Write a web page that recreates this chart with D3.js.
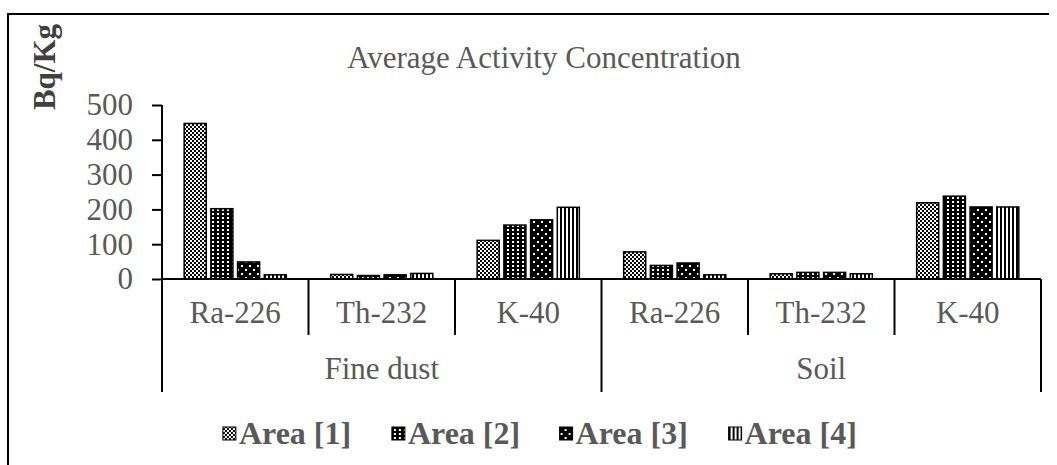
<!DOCTYPE html>
<html>
<head>
<meta charset="utf-8">
<script src="https://cdn.jsdelivr.net/npm/d3@7"></script>
<style>
  body { margin: 0; background: #fff; }
  text { font-family: "Liberation Serif", "Times New Roman", serif; }
</style>
</head>
<body>
<script>
// data
var groups = ["Fine dust", "Soil"];
var nuclides = ["Ra-226", "Th-232", "K-40"];
var series = ["Area [1]", "Area [2]", "Area [3]", "Area [4]"];
var area1 = [447, 13, 111, 78, 15, 219];
var area2 = [202, 10, 155, 39, 19, 238];
var area3 = [49, 12, 170, 46, 19, 207];
var area4 = [12, 16, 206, 12, 15, 207];
var yTicks = [0, 100, 200, 300, 400, 500];

var w = 1057, h = 465;
var svg = d3.select("body").append("svg")
  .attr("width", w)
  .attr("height", h);

// patterns
var defs = svg.append("defs");
var p1 = defs.append("pattern").attr("id", "p1").attr("patternUnits", "userSpaceOnUse")
  .attr("width", 4).attr("height", 4);
p1.append("rect").attr("width", 4).attr("height", 4).attr("fill", "#fff");
p1.append("rect").attr("width", 2).attr("height", 2).attr("fill", "#000");
p1.append("rect").attr("x", 2).attr("y", 2).attr("width", 2).attr("height", 2).attr("fill", "#000");

var p2 = defs.append("pattern").attr("id", "p2").attr("patternUnits", "userSpaceOnUse")
  .attr("width", 5).attr("height", 4);
p2.append("rect").attr("width", 5).attr("height", 4).attr("fill", "#000");
p2.append("rect").attr("x", 2).attr("y", 1).attr("width", 2).attr("height", 2).attr("fill", "#fff");

var p3 = defs.append("pattern").attr("id", "p3").attr("patternUnits", "userSpaceOnUse")
  .attr("width", 8).attr("height", 8);
p3.append("rect").attr("width", 8).attr("height", 8).attr("fill", "#000");
p3.append("rect").attr("x", 1).attr("y", 1).attr("width", 2).attr("height", 2).attr("fill", "#fff");
p3.append("rect").attr("x", 5).attr("y", 5).attr("width", 2).attr("height", 2).attr("fill", "#fff");

var p4 = defs.append("pattern").attr("id", "p4").attr("patternUnits", "userSpaceOnUse")
  .attr("width", 4).attr("height", 4);
p4.append("rect").attr("width", 4).attr("height", 4).attr("fill", "#fff");
p4.append("rect").attr("width", 2).attr("height", 4).attr("fill", "#000");

var fills = ["url(#p1)", "url(#p2)", "url(#p3)", "url(#p4)"];

// border
svg.append("path")
  .attr("d", "M8,465 V14 H1049")
  .attr("fill", "none").attr("stroke", "#000").attr("stroke-width", 2);

// scales
var cats = [];
groups.forEach(function(g) {
  nuclides.forEach(function(n) { cats.push(g + "|" + n); });
});
var x0 = d3.scaleBand().domain(cats).range([162, 1041]);
var x1 = d3.scaleBand().domain(series).range([0, x0.bandwidth()])
  .paddingInner(0.175).paddingOuter(0.83);
var y = d3.scaleLinear().domain([0, 500]).range([279, 105]);
var xg = d3.scaleBand().domain(groups).range([162, 1041]);

// bars
var vals = [area1, area2, area3, area4];
var rows = [];
series.forEach(function(s, si) {
  cats.forEach(function(c, ci) {
    rows.push({ s: s, si: si, c: c, v: vals[si][ci] });
  });
});
svg.append("g").selectAll("rect")
  .data(rows)
  .enter()
  .append("rect")
  .attr("x", function(d) { return x0(d.c) + x1(d.s); })
  .attr("y", function(d) { return y(d.v); })
  .attr("width", x1.bandwidth())
  .attr("height", function(d) { return y(0) - y(d.v); })
  .attr("fill", function(d) { return fills[d.si]; })
  .attr("stroke", "#000")
  .attr("stroke-width", 1.5);

// y axis
var yAxis = svg.append("g")
  .attr("transform", "translate(162,0)")
  .call(d3.axisLeft(y).tickValues(yTicks).tickSize(10).tickPadding(19));
yAxis.select(".domain").attr("stroke", "#000").attr("stroke-width", 2).attr("d", "M0,105 V279");
yAxis.selectAll(".tick line").attr("stroke", "#000").attr("stroke-width", 2);
yAxis.selectAll(".tick text")
  .attr("fill", "#595959")
  .attr("font-size", "31px")
  .attr("font-family", "Liberation Serif, Times New Roman, serif");

// x axis line
svg.append("line")
  .attr("x1", 162).attr("x2", 1041)
  .attr("y1", y(0)).attr("y2", y(0))
  .attr("stroke", "#000").attr("stroke-width", 2);

// category dividers
var inner = cats.filter(function(c, i) { return i % 3 !== 0; });
svg.append("g").selectAll("line")
  .data(inner)
  .enter()
  .append("line")
  .attr("x1", function(c) { return x0(c); })
  .attr("x2", function(c) { return x0(c); })
  .attr("y1", y(0)).attr("y2", 335)
  .attr("stroke", "#000").attr("stroke-width", 2);

var outer = [162, xg("Soil"), 1041];
svg.append("g").selectAll("line")
  .data(outer)
  .enter()
  .append("line")
  .attr("x1", function(d) { return d; })
  .attr("x2", function(d) { return d; })
  .attr("y1", y(0)).attr("y2", 392)
  .attr("stroke", "#000").attr("stroke-width", 2);

// category labels
svg.append("g").selectAll("text")
  .data(cats)
  .enter()
  .append("text")
  .attr("x", function(c) { return x0(c) + x0.bandwidth() / 2; })
  .attr("y", 323)
  .attr("text-anchor", "middle")
  .attr("font-size", "31px")
  .attr("fill", "#595959")
  .text(function(c) { return c.split("|")[1]; });

svg.append("g").selectAll("text")
  .data(groups)
  .enter()
  .append("text")
  .attr("x", function(g) { return xg(g) + xg.bandwidth() / 2; })
  .attr("y", 379)
  .attr("text-anchor", "middle")
  .attr("font-size", "31px")
  .attr("fill", "#595959")
  .text(function(g) { return g; });

// title
svg.append("text")
  .attr("x", 544).attr("y", 68)
  .attr("text-anchor", "middle")
  .attr("font-size", "31px")
  .attr("fill", "#595959")
  .text("Average Activity Concentration");

// y label
svg.append("text")
  .attr("transform", "translate(55,67) rotate(-90)")
  .attr("text-anchor", "middle")
  .attr("font-size", "31px")
  .attr("font-weight", "bold")
  .attr("fill", "#404040")
  .text("Bq/Kg");

// legend
var legX = [223, 353, 482, 612];
var leg = svg.append("g").selectAll("g")
  .data(series)
  .enter()
  .append("g")
  .attr("transform", function(d, i) { return "translate(" + (legX[i] * 1.3 - 67) + ",0)"; });
leg.append("rect")
  .attr("y", 427)
  .attr("width", 13).attr("height", 13)
  .attr("fill", function(d, i) { return fills[i]; })
  .attr("stroke", "#000").attr("stroke-width", 1);
leg.append("text")
  .attr("x", 16).attr("y", 444)
  .attr("font-size", "32px")
  .attr("font-weight", "bold")
  .attr("fill", "#595959")
  .text(function(d) { return d; });
</script>
</body>
</html>
